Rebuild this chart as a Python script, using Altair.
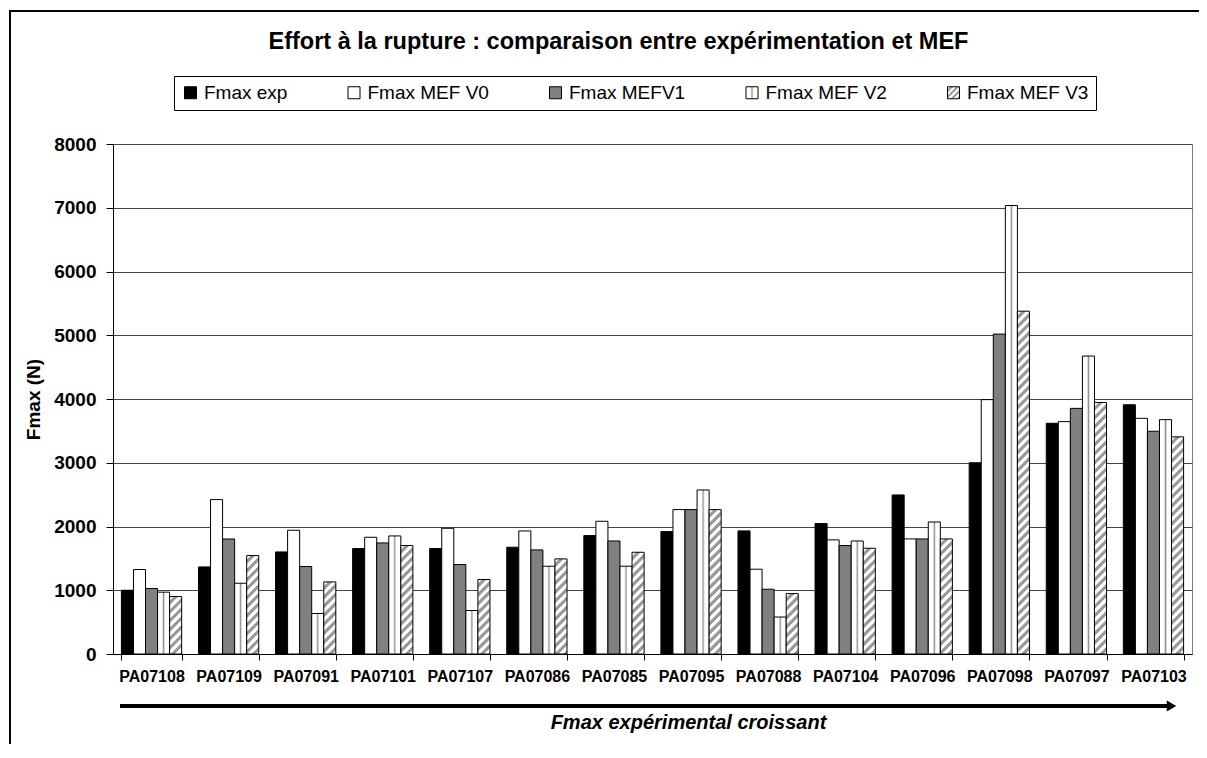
import altair as alt
import pandas as pd

categories = ["PA07108", "PA07109", "PA07091", "PA07101", "PA07107", "PA07086", "PA07085",
              "PA07095", "PA07088", "PA07104", "PA07096", "PA07098", "PA07097", "PA07103"]
series_names = ["Fmax exp", "Fmax MEF V0", "Fmax MEFV1", "Fmax MEF V2", "Fmax MEF V3"]
fmax_exp = [1000, 1366, 1601, 1654, 1654, 1675, 1857, 1920, 1931, 2046, 2495, 3000, 3619, 3910]
fmax_v0 = [1325, 2422, 1941, 1831, 1972, 1930, 2082, 2265, 1330, 1790, 1805, 3990, 3645, 3697]
fmax_v1 = [1027, 1804, 1372, 1742, 1403, 1633, 1773, 2265, 1016, 1701, 1805, 5018, 3853, 3494]
fmax_v2 = [970, 1110, 635, 1852, 682, 1377, 1377, 2573, 580, 1773, 2071, 7035, 4674, 3676]
fmax_v3 = [901, 1544, 1131, 1701, 1168, 1492, 1596, 2265, 948, 1659, 1805, 5377, 3946, 3406]
y_ticks = [0, 1000, 2000, 3000, 4000, 5000, 6000, 7000, 8000]

TITLE = "Effort à la rupture : comparaison entre expérimentation et MEF"
X_TITLE = "Fmax expérimental croissant"
Y_TITLE = "Fmax (N)"

W, H = 1079, 510
YMAX = 8000
PAD_IN = 0.218
FONT = "Liberation Sans"
STRIPE = "#9a9a9a"

rows = []
for name, vals in zip(series_names, [fmax_exp, fmax_v0, fmax_v1, fmax_v2, fmax_v3]):
    for c, v in zip(categories, vals):
        rows.append({"cat": c, "series": name, "value": v})
df = pd.DataFrame(rows)
one = pd.DataFrame({"d": [0]})


def grad_expr(stops, x1, y1, x2, y2):
    s = ", ".join("{offset: %.4f, color: '%s'}" % (o, c) for o, c in stops)
    return "{gradient: 'linear', x1: %g, y1: %g, x2: %g, y2: %g, stops: [%s]}" % (x1, y1, x2, y2, s)


def hatch_stops(w, h, period):
    L = w + h
    dt = period / L
    stops = []
    k = 0
    while True:
        base = k * dt
        if base > 1:
            break
        for f, col in ((0.0, "#ffffff"), (0.42, "#ffffff"), (0.52, STRIPE), (0.92, STRIPE)):
            o = base + f * dt
            if o <= 1:
                stops.append((o, col))
        k += 1
    return stops


def hatch_vector(w, h):
    d = w * w + h * h
    return (w * (w + h) / d, h * (w + h) / d)


v2_stops = [(0, "#ffffff"), (0.36, "#ffffff"), (0.44, "#d0d0d0"), (0.5, "#8c8c8c"),
            (0.56, "#d0d0d0"), (0.64, "#ffffff"), (1, "#ffffff")]
v2_expr = grad_expr(v2_stops, 0, 0, 1, 0)
lg = hatch_vector(12, 12)
v3_legend_expr = grad_expr(hatch_stops(12, 12, 6), 0, 0, lg[0], lg[1])

x_enc = alt.X(
    "cat:N", sort=categories,
    scale=alt.Scale(domain=categories, paddingInner=PAD_IN, paddingOuter=PAD_IN / 2),
    title=X_TITLE,
    axis=alt.Axis(labelAngle=0, labelFont=FONT, labelFontSize=16, labelFontWeight="bold",
                  labelColor="black", labelPadding=8, tickSize=6, tickBand="extent",
                  tickColor="black", domainColor="black", labelOverlap=False, grid=False,
                  titleFont=FONT, titleFontSize=20, titleFontStyle="italic",
                  titleFontWeight="bold", titleColor="black", titleX=575, titleY=68,
                  titleBaseline="middle", titleAlign="center"),
)
xo_enc = alt.XOffset("series:N", sort=series_names,
                     scale=alt.Scale(domain=series_names, paddingInner=0, paddingOuter=0))
y_enc = alt.Y(
    "value:Q", scale=alt.Scale(domain=[0, YMAX], nice=False), title=Y_TITLE,
    axis=alt.Axis(values=y_ticks, format="d", labelFont=FONT, labelFontSize=19,
                  labelFontWeight="bold", labelColor="black", labelPadding=10, tickSize=7,
                  tickColor="black", domainColor="black", grid=True, gridColor="#444444",
                  titleFont=FONT, titleFontSize=19, titleFontWeight="bold",
                  titleColor="black", titlePadding=10),
)

color_enc = alt.Color(
    "series:N", sort=series_names,
    scale=alt.Scale(domain=series_names,
                    range=["#000000", "#ffffff", "#808080", {"expr": v2_expr}, {"expr": v3_legend_expr}]),
    legend=alt.Legend(orient="none", legendX=61, legendY=-68, direction="horizontal",
                      title=None, symbolType="square", symbolSize=144,
                      symbolStrokeColor="black", symbolStrokeWidth=1, labelFont=FONT,
                      labelFontSize=19, labelColor="black", columnPadding=56.5, padding=7,
                      strokeColor="black", fillColor="white", labelOffset=4),
)

base = alt.Chart(df)

main = base.transform_filter(alt.datum.series != series_names[4]).mark_bar(
    stroke="black", strokeWidth=1
).encode(x=x_enc, xOffset=xo_enc, y=y_enc, color=color_enc)

bar_w = (W / len(categories)) * (1 - PAD_IN) / len(series_names)
v3_layers = []
for c, v in zip(categories, fmax_v3):
    h = v / YMAX * H
    gx, gy = hatch_vector(bar_w, h)
    grad = alt.LinearGradient(
        gradient="linear", x1=0, y1=0, x2=gx, y2=gy,
        stops=[alt.GradientStop(offset=o, color=col) for o, col in hatch_stops(bar_w, h, 9)],
    )
    layer = base.transform_filter(
        (alt.datum.series == series_names[4]) & (alt.datum.cat == c)
    ).mark_bar(fill=grad, stroke="black", strokeWidth=1).encode(x=x_enc, xOffset=xo_enc, y=y_enc)
    v3_layers.append(layer)

frame = alt.Chart(one).mark_rect(fillOpacity=0, stroke="black", strokeWidth=2).encode(
    x=alt.value(-103), x2=alt.value(1110), y=alt.value(-133), y2=alt.value(640)
)
arrow_line = alt.Chart(one).mark_rule(color="black", strokeWidth=4).encode(
    x=alt.value(7), x2=alt.value(1054), y=alt.value(562)
)
arrow_head = alt.Chart(one).mark_point(shape="triangle-right", filled=True, color="black",
                                       opacity=1, size=121).encode(
    x=alt.value(1058.5), y=alt.value(562)
)
title_text = alt.Chart(one).mark_text(
    text=TITLE, font=FONT, fontSize=23.5, fontWeight="bold", align="center",
    baseline="alphabetic", color="black"
).encode(x=alt.value(505.5), y=alt.value(-95))

chart = alt.layer(frame, main, *v3_layers, arrow_line, arrow_head, title_text).properties(
    width=W, height=H,
    autosize=alt.AutoSizeParams(type="none"),
    padding={"left": 105, "top": 136, "right": 7, "bottom": 90},
    background="white",
).configure_view(stroke="#808080", strokeWidth=1)

chart.save("out.html", embed_options={"renderer": "svg", "actions": False})
